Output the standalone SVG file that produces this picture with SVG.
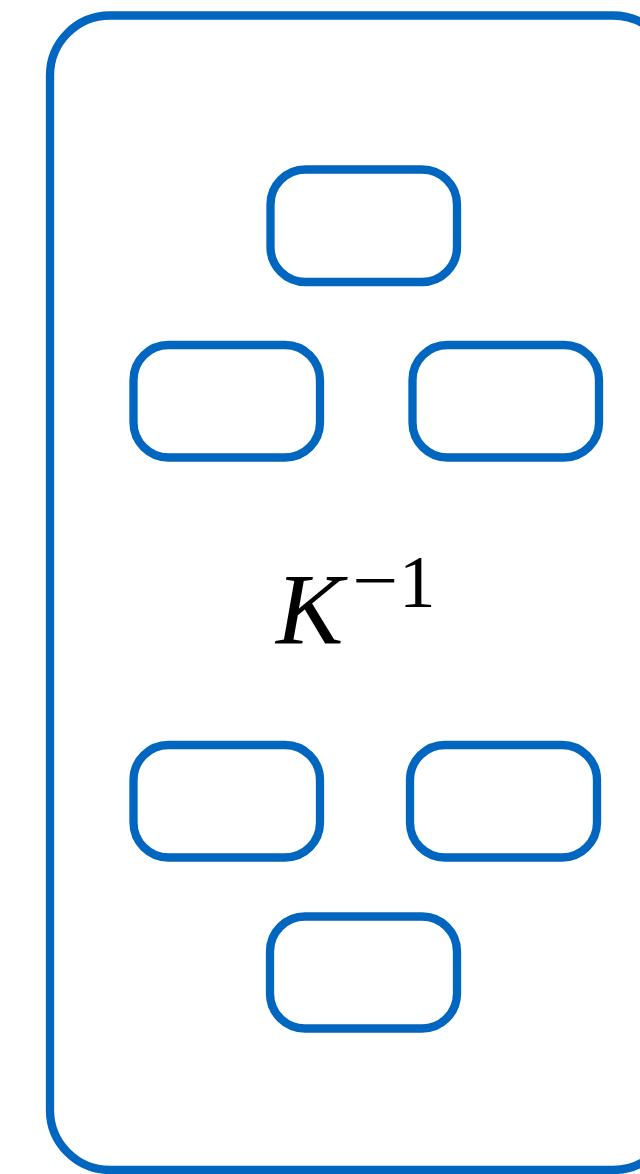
<svg xmlns="http://www.w3.org/2000/svg" width="640" height="1174" viewBox="0 0 640 1174">
<style>
.box{fill:none;stroke:#0066C0;stroke-width:8.3}
.lbl{font-family:"Liberation Serif",serif;fill:#000}
</style>
<rect width="640" height="1174" fill="#fff"/>
<g id="outer"><rect class="box" x="50" y="15.5" width="623" height="1154.5" rx="60"/></g>
<g id="n1"><rect class="box" x="270.5" y="169.5" width="186.5" height="112.5" rx="35"/></g>
<g id="n2"><rect class="box" x="133.5" y="345" width="186.5" height="112.5" rx="35"/></g>
<g id="n3"><rect class="box" x="412.5" y="345" width="186.5" height="112.5" rx="35"/></g>
<g id="n4"><rect class="box" x="133.5" y="745" width="186.5" height="112.5" rx="35"/></g>
<g id="n5"><rect class="box" x="410" y="745" width="187" height="112.5" rx="35"/></g>
<g id="n6"><rect class="box" x="270" y="916.5" width="187" height="112" rx="35"/></g>
<g id="connectors"></g>
<g id="label"><text class="lbl" x="276" y="644" font-size="101" font-style="italic">K</text><text class="lbl" x="352" y="605" font-size="73" textLength="46" lengthAdjust="spacingAndGlyphs">−</text><text class="lbl" x="399" y="607" font-size="73">1</text></g>
</svg>
